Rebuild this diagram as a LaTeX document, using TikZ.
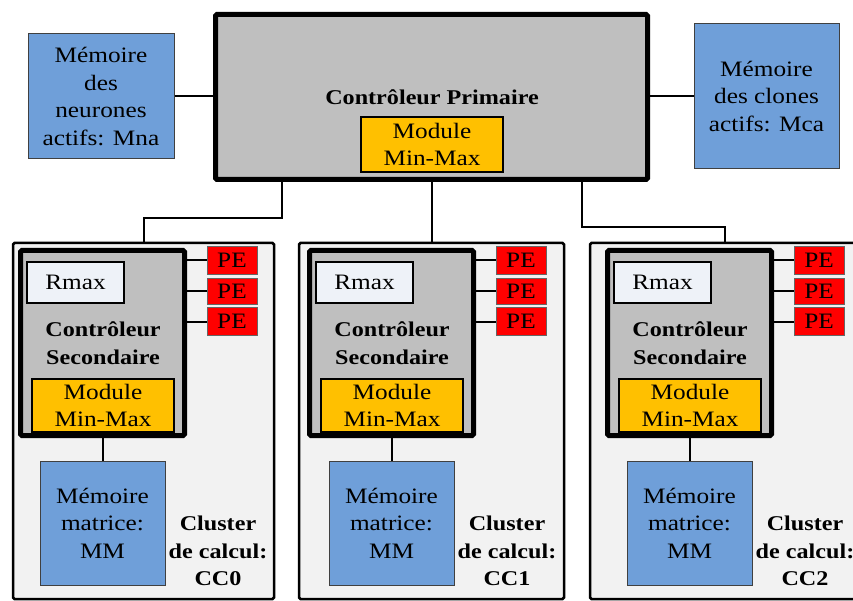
\documentclass[tikz,border=0pt]{standalone}
\usepackage{fontspec}
\setmainfont{Liberation Serif}[FakeStretch=1.15]
\definecolor{gfill}{HTML}{BFBFBF}
\definecolor{ofill}{HTML}{FFC000}
\definecolor{bfill}{HTML}{6F9FD9}
\definecolor{cfill}{HTML}{F2F2F2}
\definecolor{rfill}{HTML}{EEF2F8}
\definecolor{pefill}{HTML}{FF0000}
\tikzset{
  box/.style={rectangle, inner sep=0pt, align=center, font=\fontsize{22}{27.5}\selectfont},
  ctrlbox/.style={box, draw, line width=5pt, fill=gfill, rounded corners=1.5pt},
  memb/.style={box, draw=black!75, line width=1pt, fill=bfill},
  modb/.style={box, draw, line width=1.2pt, fill=ofill},
  peb/.style={box, draw=black!60, line width=1pt, fill=pefill},
  rmaxb/.style={box, draw, line width=1.2pt, fill=rfill},
  clb/.style={box, draw, line width=2.5pt, fill=cfill, rounded corners=1.5pt},
  lbl/.style={align=center, inner sep=0pt, font=\bfseries\fontsize{21}{27.5}\selectfont},
  wire/.style={line width=2pt}
}
\begin{document}
\begin{tikzpicture}[x=1pt,y=-1pt]
\useasboundingbox (0,0) rectangle (853,601);
\clip (0,0) rectangle (853,601);
\fill[white] (0,0) rectangle (853,601);

% clusters
\foreach \i/\dx/\cx/\cw in {0/0/143.5/261, 1/289/431.5/265, 2/587/735/290}{
  \node[clb, minimum width=\cw pt, minimum height=356pt] (cl\i) at (\cx,421) {};
  \node[ctrlbox, minimum width=164pt, minimum height=185pt] (ctrl\i) at ({102.5+\dx},343) {};
  \node[rmaxb, minimum width=97pt, minimum height=41pt] (rmax\i) at ({75.5+\dx},282.5) {Rmax};
  \node[lbl] (ctit\i) at ({103+\dx},343) {Contrôleur\\Secondaire};
  \node[modb, minimum width=142pt, minimum height=53pt] (mod\i) at ({103+\dx},405.5) {Module\\Min-Max};
  \node[memb, minimum width=125pt, minimum height=124pt] (mm\i) at ({102.5+\dx},523) {Mémoire\\matrice:\\MM};
  \node[lbl] (clab\i) at ({218+\dx},551) {Cluster\\de calcul:\\CC\i};
  \node[peb, minimum width=50pt, minimum height=27.5pt] (pea\i) at ({232+\dx},260.5) {PE};
  \node[peb, minimum width=50pt, minimum height=25pt] (peb\i) at ({232+\dx},291.5) {PE};
  \node[peb, minimum width=50pt, minimum height=27.5pt] (pec\i) at ({232+\dx},321.5) {PE};
  \draw[wire] (pea\i.west) -- (pea\i.west -| ctrl\i.east);
  \draw[wire] (peb\i.west) -- (peb\i.west -| ctrl\i.east);
  \draw[wire] (pec\i.west) -- (pec\i.west -| ctrl\i.east);
  \draw[wire] (ctrl\i.south) -- (mm\i.north);
}

% primary controller
\node[ctrlbox, minimum width=432pt, minimum height=165pt] (prim) at (431.5,97) {};
\node[lbl] (ptit) at (432,97) {Contrôleur Primaire};
\node[modb, minimum width=142pt, minimum height=55pt] (pmod) at (432,144.5) {Module\\Min-Max};

% memories
\node[memb, minimum width=146pt, minimum height=125pt] (mna) at (101,96.5) {Mémoire\\des\\neurones\\actifs: Mna};
\node[memb, minimum width=145pt, minimum height=145pt] (mca) at (766.5,96.5) {Mémoire\\des clones\\actifs: Mca};
\draw[wire] (mna.east) -- (mna.east -| prim.west);
\draw[wire] (mca.west) -- (mca.west -| prim.east);

% connectors to clusters
\coordinate (k0) at (282,218);
\coordinate (k2) at (582,227);
\coordinate (k2b) at (725,227);
\draw[wire] (prim.south -| k0) -- (k0) -| (cl0.north);
\draw[wire] (prim.south -| cl1.north) -- (cl1.north);
\draw[wire] (prim.south -| k2) -- (k2) -- (k2b) -- (k2b |- cl2.north);
\end{tikzpicture}
\end{document}
